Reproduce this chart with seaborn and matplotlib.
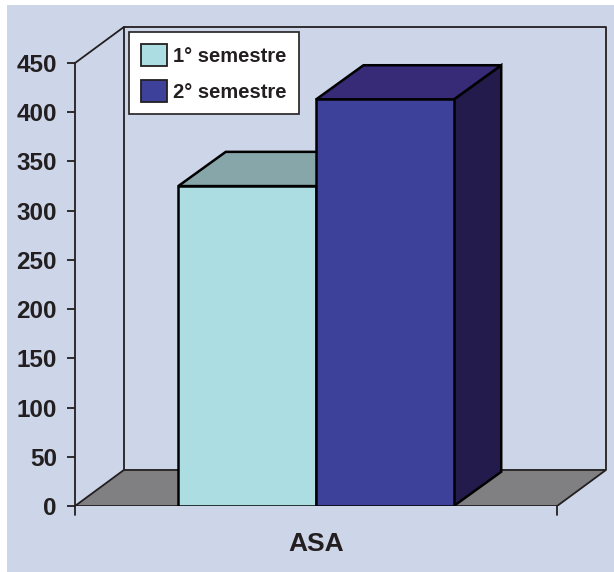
import matplotlib
matplotlib.use("Agg")
import matplotlib.pyplot as plt
from matplotlib.patches import Polygon, Rectangle, Patch
import seaborn as sns
import pandas as pd

# ---- data ----
categories = ["ASA"]
series = ["1° semestre", "2° semestre"]
values_s1 = [325]
values_s2 = [413]
y_ticks = [0, 50, 100, 150, 200, 250, 300, 350, 400, 450]

df = pd.DataFrame({
    "cat": categories * 2,
    "serie": [series[0]] * len(categories) + [series[1]] * len(categories),
    "val": values_s1 + values_s2,
})

front_cols = ["#ACDDE2", "#3E4199"]
top_cols = ["#87A6AA", "#372A77"]
side_cols = ["#6E8E92", "#231B4B"]
BG = "#CDD5E8"
INK = "#231F20"
FLOOR = "#808083"

sns.set_theme(style="white")
plt.rcParams["font.family"] = ["Liberation Sans", "DejaVu Sans"]

W, H = 614, 572
fig = plt.figure(figsize=(W / 100, H / 100), dpi=100, facecolor="white")
fig.patches.append(Rectangle((7 / W, 0), 1 - 7 / W, 1 - 5 / H, transform=fig.transFigure,
                             facecolor=BG, edgecolor="none", zorder=-10))

# axes: front axis x=75px, back right x=606px, top 27px, bottom(0) 506px
ax = fig.add_axes([75 / W, 1 - 506 / H, (606 - 75) / W, (506 - 27) / H])
ax.set_facecolor("none")

XL, XR = -0.70, 0.70        # front floor extent
DX = 0.142                  # depth in x data units
YMAX = 450
DY = 36.6                   # depth in y data units

sns.barplot(data=df, x="cat", y="val", hue="serie", palette=front_cols,
            edgecolor="black", linewidth=1.8, legend=False, ax=ax, zorder=3,
            saturation=1, width=0.8)

ax.set_xlim(XL, XR + DX)
ax.set_ylim(0, YMAX + DY)

# floor
ax.add_patch(Polygon([(XL, 0), (XL + DX, DY), (XR + DX, DY), (XR, 0)], closed=True,
                     facecolor=FLOOR, edgecolor=INK, linewidth=1.3, zorder=1))
# back walls
ax.plot([XL + DX, XL + DX, XR + DX, XR + DX], [DY, YMAX + DY, YMAX + DY, DY],
        color=INK, linewidth=1.3, zorder=1, clip_on=False)
ax.plot([XL, XL + DX], [YMAX, YMAX + DY], color=INK, linewidth=1.3, zorder=1, clip_on=False)
# category boundary ticks
ax.plot([XL, XL], [0, -9], color=INK, linewidth=1.3, clip_on=False)
ax.plot([XR, XR], [0, -9], color=INK, linewidth=1.3, clip_on=False)

# 3D faces derived from bars
bdx, bdy = DX * 0.97, DY * 0.95
for i, cont in enumerate(ax.containers):
    for bar in cont:
        x0 = bar.get_x(); w = bar.get_width(); h = bar.get_height()
        top = [(x0, h), (x0 + bdx, h + bdy), (x0 + w + bdx, h + bdy), (x0 + w, h)]
        side = [(x0 + w, 0), (x0 + w, h), (x0 + w + bdx, h + bdy), (x0 + w + bdx, bdy)]
        ax.add_patch(Polygon(side, closed=True, facecolor=side_cols[i], edgecolor="black",
                             linewidth=1.8, zorder=2))
        ax.add_patch(Polygon(top, closed=True, facecolor=top_cols[i], edgecolor="black",
                             linewidth=1.8, zorder=2))

# axes styling
for s in ["top", "right", "bottom"]:
    ax.spines[s].set_visible(False)
ax.spines["left"].set_color(INK)
ax.spines["left"].set_linewidth(1.3)
ax.spines["left"].set_bounds(0, YMAX)
ax.set_yticks(y_ticks)
ax.set_yticklabels([str(t) for t in y_ticks], fontsize=17.5, fontweight="bold", color=INK)
ax.tick_params(axis="y", direction="out", length=6, width=1.3, color=INK, pad=7, left=True)
ax.tick_params(axis="x", length=0, pad=19)
for lab in ax.get_xticklabels():
    lab.set_fontsize(19)
    lab.set_fontweight("bold")
    lab.set_color(INK)
ax.set_xlabel("")
ax.set_ylabel("")

handles = [Patch(facecolor=front_cols[i], edgecolor=INK, linewidth=1.3) for i in range(2)]
leg = ax.legend(handles, series, loc="upper left", bbox_to_anchor=(129 / W, 1 - 32 / H),
                bbox_transform=fig.transFigure, borderaxespad=0, frameon=True, fancybox=False,
                prop={"size": 14.5, "weight": "bold"}, handlelength=1.3, handleheight=1.3,
                handletextpad=0.3, labelspacing=0.7, borderpad=0.6)
leg.get_frame().set_edgecolor(INK)
leg.get_frame().set_linewidth(1.2)
leg.get_frame().set_facecolor("white")
leg.get_frame().set_alpha(1)
leg.set_zorder(5)
for t in leg.get_texts():
    t.set_color(INK)

fig.savefig("out.png", dpi=100, facecolor="white")
